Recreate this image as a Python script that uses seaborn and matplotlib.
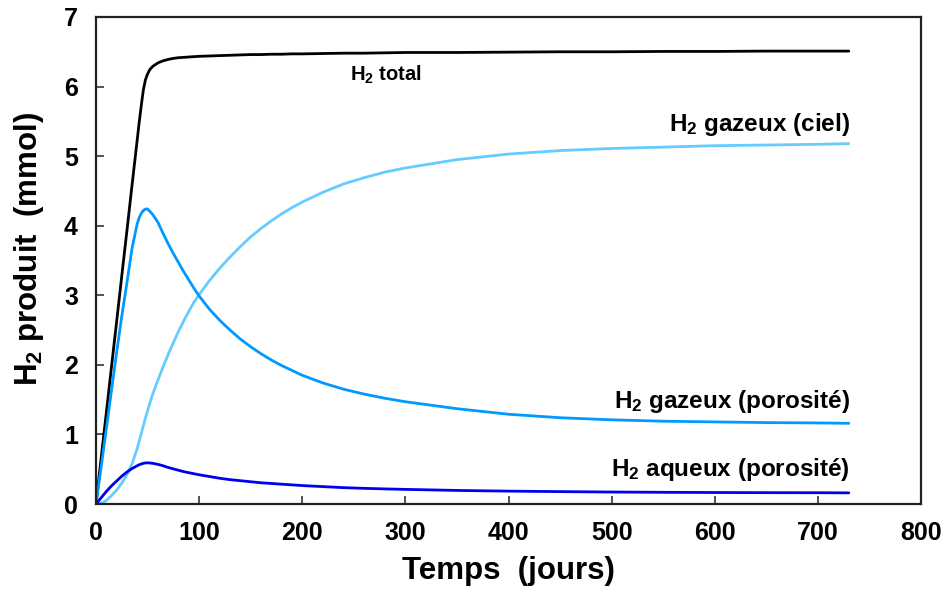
import matplotlib
matplotlib.use("Agg")
import matplotlib.pyplot as plt
import seaborn as sns
import pandas as pd

# ---- data ----
temps = [0, 5, 10, 15, 20, 25, 30, 35, 40, 42, 44, 46, 48, 50, 52, 55, 60, 65, 70, 75,
         80, 85, 90, 95, 100, 110, 120, 130, 140, 150, 160, 170, 180, 190, 200, 220, 240,
         260, 280, 300, 350, 400, 450, 500, 550, 600, 650, 700, 730]

h2_total = [0, 0.66, 1.31, 1.97, 2.62, 3.28, 3.93, 4.59, 5.24,
            5.50, 5.74, 5.96, 6.10, 6.18, 6.24, 6.29,
            6.34, 6.37, 6.39, 6.405, 6.415, 6.42, 6.425, 6.43, 6.435,
            6.44, 6.445, 6.45, 6.455, 6.46, 6.46, 6.465, 6.465, 6.47, 6.47,
            6.475, 6.48, 6.48, 6.485, 6.49,
            6.49, 6.495, 6.50, 6.50, 6.505, 6.505, 6.51, 6.51, 6.51]

h2_ciel = [0, 0.01, 0.05, 0.12, 0.20, 0.30, 0.42, 0.58, 0.80,
           0.91, 1.02, 1.13, 1.24, 1.34, 1.44, 1.58,
           1.78, 1.97, 2.15, 2.32, 2.48, 2.63, 2.77, 2.90, 3.01,
           3.21, 3.39, 3.55, 3.70, 3.84, 3.96, 4.07, 4.17, 4.26, 4.34,
           4.48, 4.60, 4.69, 4.77, 4.83,
           4.95, 5.03, 5.08, 5.11, 5.13, 5.15, 5.16, 5.17, 5.18]

h2_gaz_poro = [0, 0.53, 1.08, 1.63, 2.18, 2.70, 3.18, 3.68, 4.03,
               4.12, 4.18, 4.22, 4.24, 4.24, 4.21, 4.16,
               4.05, 3.89, 3.74, 3.60, 3.47, 3.34, 3.22, 3.10, 2.99,
               2.80, 2.64, 2.50, 2.37, 2.26, 2.16, 2.07, 1.99, 1.92, 1.85,
               1.74, 1.65, 1.58, 1.52, 1.47,
               1.37, 1.29, 1.24, 1.21, 1.19, 1.18, 1.17, 1.165, 1.16]

h2_aq_poro = [0, 0.09, 0.18, 0.26, 0.33, 0.40, 0.46, 0.51, 0.55,
              0.565, 0.575, 0.585, 0.59, 0.592, 0.59, 0.585,
              0.57, 0.55, 0.525, 0.505, 0.485, 0.465, 0.45, 0.435, 0.42,
              0.395, 0.37, 0.35, 0.335, 0.32, 0.305, 0.295, 0.285, 0.275, 0.265,
              0.25, 0.235, 0.225, 0.217, 0.21,
              0.195, 0.185, 0.178, 0.172, 0.168, 0.165, 0.163, 0.162, 0.16]

series_names = ["total", "ciel", "gaz_poro", "aq_poro"]
series_colors = {"total": "#000000", "ciel": "#66CCFF", "gaz_poro": "#0099FF", "aq_poro": "#0000EE"}

x_ticks = [0, 100, 200, 300, 400, 500, 600, 700, 800]
y_ticks = [0, 1, 2, 3, 4, 5, 6, 7]

df = pd.concat([
    pd.DataFrame({"t": temps, "v": vals, "s": name})
    for name, vals in zip(series_names, [h2_total, h2_ciel, h2_gaz_poro, h2_aq_poro])
])

sns.set_theme(style="white")
FONT = ["Liberation Sans", "DejaVu Sans"]
plt.rcParams["font.family"] = FONT
plt.rcParams["font.weight"] = "bold"
plt.rcParams["text.color"] = "black"
plt.rcParams["axes.labelcolor"] = "black"
plt.rcParams["xtick.color"] = "black"
plt.rcParams["ytick.color"] = "black"
plt.rcParams["mathtext.fontset"] = "custom"
plt.rcParams["mathtext.rm"] = "Liberation Sans:bold"
plt.rcParams["mathtext.bf"] = "Liberation Sans:bold"
plt.rcParams["mathtext.it"] = "Liberation Sans:bold"

fig = plt.figure(figsize=(9.47, 5.90), dpi=100)
ax = fig.add_axes([96 / 947, 1 - 504 / 590, (921 - 96) / 947, (504 - 17) / 590])

sns.lineplot(data=df, x="t", y="v", hue="s", hue_order=series_names,
             palette=series_colors, linewidth=2.0, legend=False, ax=ax,
             estimator=None, sort=False)

ax.set_xlim(0, 800)
ax.set_ylim(0, 7)
ax.set_xticks(x_ticks)
ax.set_yticks(y_ticks)
ax.set_xticklabels([str(v) for v in x_ticks], fontsize=18, fontweight="bold")
ax.set_yticklabels([str(v) for v in y_ticks], fontsize=18, fontweight="bold")
ax.tick_params(axis="both", direction="in", length=6, width=1.2, color="#333333",
               bottom=True, left=True, top=False, right=False)
ax.tick_params(axis="x", pad=12)
ax.tick_params(axis="y", pad=13)

for sp in ax.spines.values():
    sp.set_visible(True)
    sp.set_color("#222222")
    sp.set_linewidth(1.6)

ax.set_xlabel("Temps  (jours)", fontsize=22.5, fontweight="bold", labelpad=8)
ax.set_ylabel(r"H$_2$ produit  (mmol)", fontsize=22.5, fontweight="bold")
ax.yaxis.set_label_coords(-0.06, 0.524)

ax.text(246, 6.17, r"H$_2$ total", fontsize=14.5, fontweight="bold", ha="left", va="center")
ax.text(731, 5.45, r"H$_2$ gazeux (ciel)", fontsize=17.5, fontweight="bold", ha="right", va="center")
ax.text(731, 1.47, r"H$_2$ gazeux (porosité)", fontsize=17.5, fontweight="bold", ha="right", va="center")
ax.text(731, 0.49, r"H$_2$ aqueux (porosité)", fontsize=17.5, fontweight="bold", ha="right", va="center")

fig.savefig("out.png", dpi=100)
